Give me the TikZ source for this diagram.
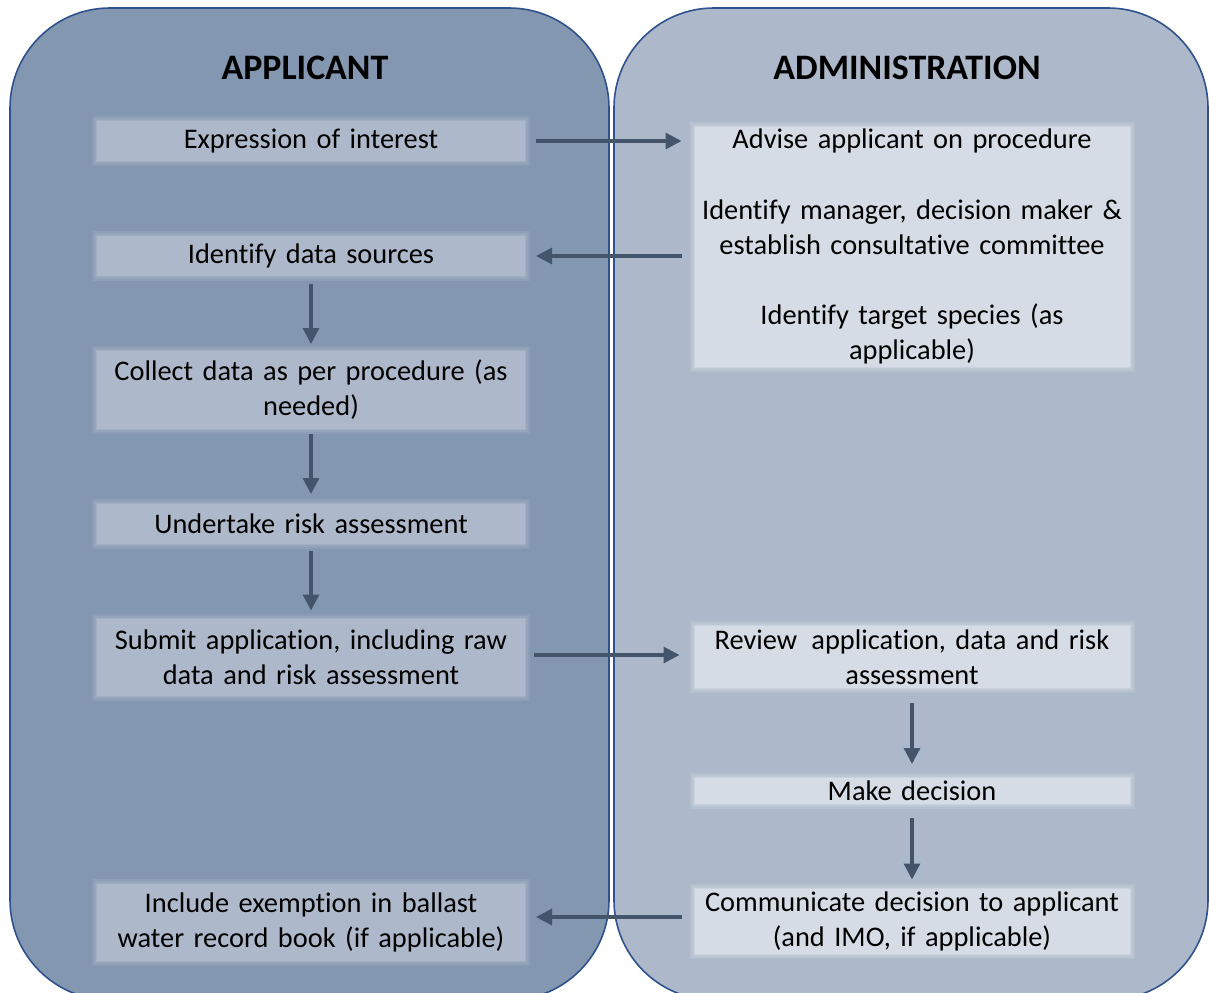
\documentclass[tikz,border=0pt]{standalone}
\usepackage{fontspec}
\setmainfont{Carlito}[RawFeature={-liga;-clig;-dlig}]
\usetikzlibrary{arrows.meta}
\definecolor{panelL}{HTML}{8497B0}
\definecolor{panelR}{HTML}{ADB9CA}
\definecolor{boxL}{HTML}{ADB9CA}
\definecolor{boxR}{HTML}{D6DCE5}
\definecolor{rim}{HTML}{2F528F}
\definecolor{arr}{HTML}{44546A}
\tikzset{
  panel/.style={draw=rim, line width=1.6bp, rounded corners=100bp},
  head/.style={font=\fontsize{36}{40}\selectfont\bfseries, text=black},
  boxbase/.style={fill=#1, draw=#1, draw opacity=0.5, line width=2bp,
    preaction={draw=#1, draw opacity=0.2, line width=10bp},
    preaction={draw=#1, draw opacity=0.3, line width=6bp},
    align=center, inner sep=0pt, font=\fontsize{28.5}{35}\selectfont, text=black},
  lbox/.style={boxbase=boxL, minimum width=428bp, text width=426bp},
  rbox/.style={boxbase=boxR, minimum width=435bp, text width=433bp},
  flow/.style={draw=arr, line width=3.2bp, -{Triangle[length=16bp,width=16bp]}},
}
\begin{document}
\begin{tikzpicture}[x=1bp,y=-1bp]
\useasboundingbox (0,0) rectangle (1209,993);
% panels
\path[panel, fill=panelL] (10,8) rectangle (609,1000);
\path[panel, fill=panelR] (614,8) rectangle (1208,1000);
\node[head] (hA) at (305,68) {APPLICANT};
\node[head] (hB) at (907,68) {ADMINISTRATION};
% applicant boxes
\node[lbox, minimum height=40bp] (e1) at (311,141) {Expression of interest};
\node[lbox, minimum height=40bp] (e2) at (311,256) {Identify data sources};
\node[lbox, minimum height=78bp] (e3) at (311,390) {Collect data as per procedure (as\\needed)};
\node[lbox, minimum height=40bp] (e4) at (311,524) {Undertake risk assessment};
\node[lbox, minimum height=77bp] (e5) at (311,657) {Submit application, including raw\\data and risk assessment};
\node[lbox, minimum height=77bp] (e6) at (311,922) {Include exemption in ballast\\water record book (if applicable)};
% administration boxes
\node[rbox, minimum height=240bp] (r1) at (912,246.5) {Advise applicant on procedure\\[36bp]Identify manager, decision maker \&\\establish consultative committee\\[36bp]Identify target species (as\\applicable)};
\node[rbox, minimum height=62bp] (r2) at (912,657) {Review\, application, data and risk\\assessment};
\node[rbox, minimum height=26bp] (r3) at (912,791) {Make decision};
\node[rbox, minimum height=65bp] (r4) at (912,921) {Communicate decision to applicant\\(and IMO, if applicable)};
% connectors
\draw[flow, shorten <=10bp, shorten >=12bp] (e1.east) -- (e1.east -| r1.west);
\draw[flow, shorten <=12bp, shorten >=10bp] (r1.west |- e2.east) -- (e2.east);
\draw[flow, shorten <=7bp, shorten >=6bp] (e2.south) -- (e3.north);
\draw[flow, shorten <=4bp, shorten >=9bp] (e3.south) -- (e4.north);
\draw[flow, shorten <=6bp, shorten >=7bp] (e4.south) -- (e5.north);
\draw[flow, shorten <=8bp, shorten >=14bp] ([yshift=2bp]e5.east) -- ([yshift=2bp]e5.east -| r2.west);
\draw[flow, shorten <=14bp, shorten >=13bp] (r2.south) -- (r3.north);
\draw[flow, shorten <=13bp, shorten >=8bp] (r3.south) -- (r4.north);
\draw[flow, shorten <=12bp, shorten >=10bp] ([yshift=4bp]r4.west) -- ([yshift=4bp]r4.west -| e6.east);
\end{tikzpicture}
\end{document}
